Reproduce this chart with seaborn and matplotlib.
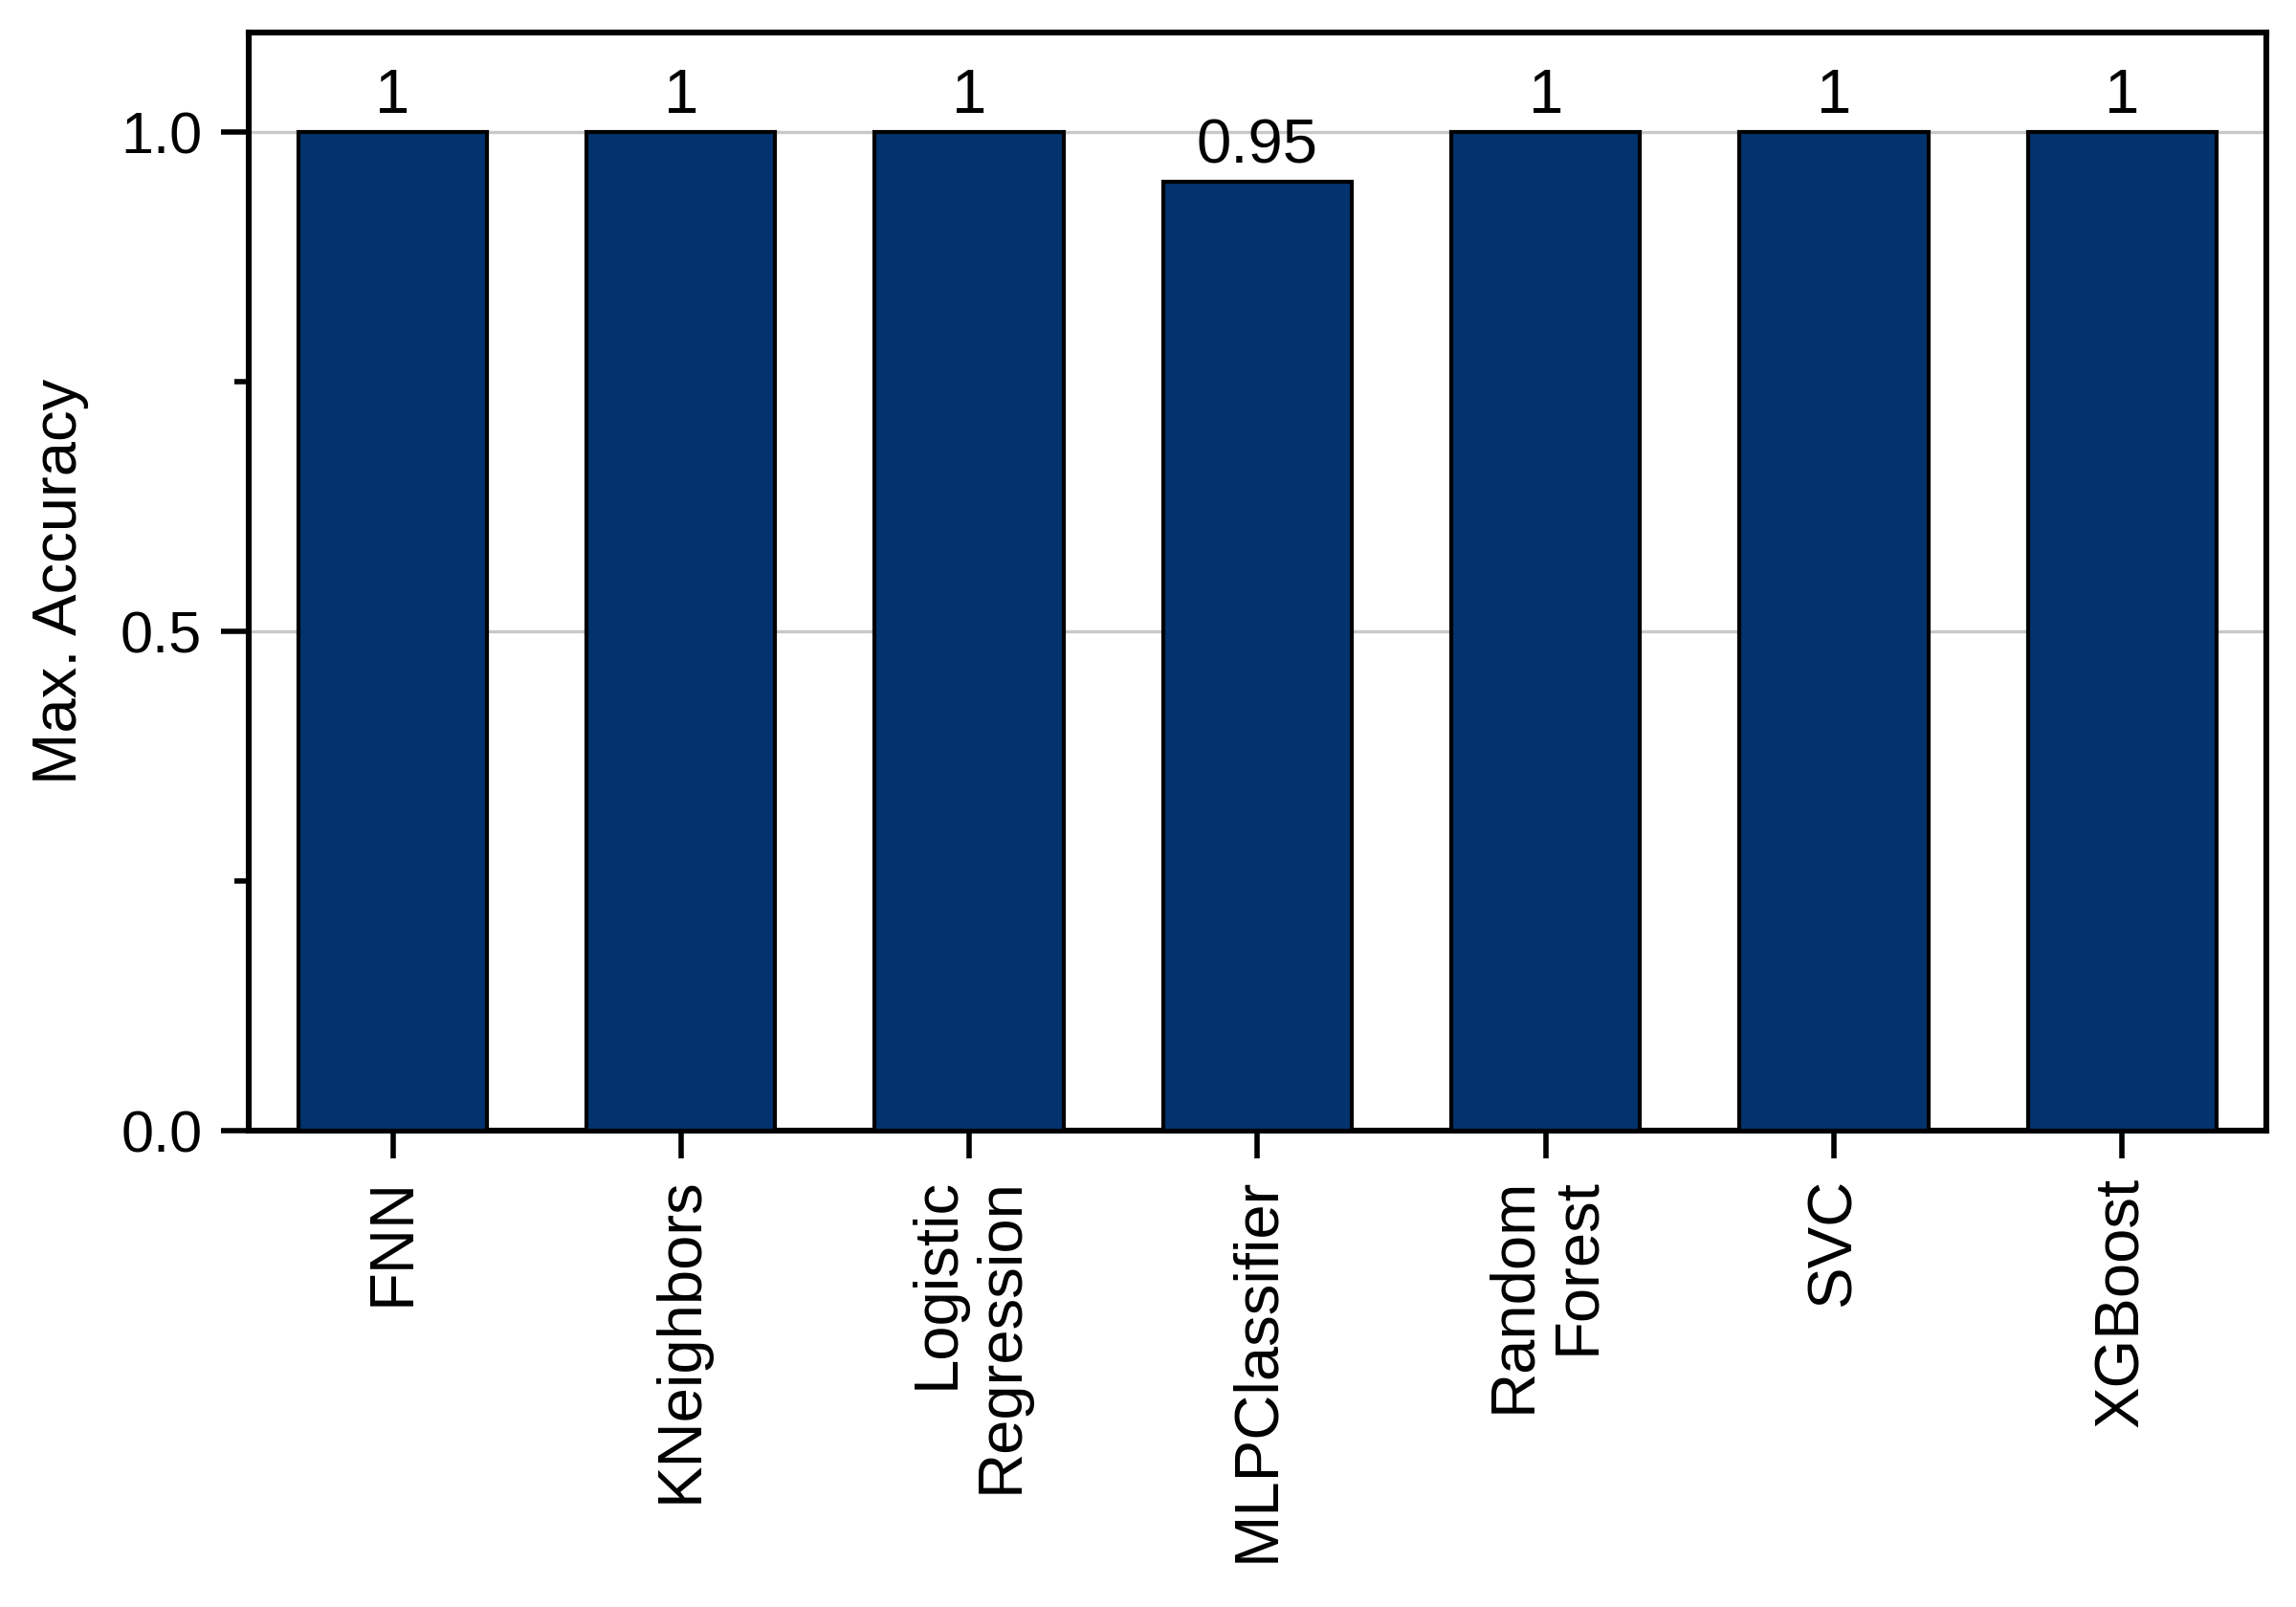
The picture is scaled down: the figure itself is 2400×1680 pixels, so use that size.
import matplotlib
matplotlib.use("Agg")
import matplotlib.pyplot as plt
import seaborn as sns
import pandas as pd
from matplotlib.ticker import FixedLocator

categories = ["FNN", "KNeighbors", "Logistic\nRegression", "MLPClassifier",
              "Random\nForest", "SVC", "XGBoost"]
values = [1, 1, 1, 0.95, 1, 1, 1]
value_labels = ["1", "1", "1", "0.95", "1", "1", "1"]
y_major = [0.0, 0.5, 1.0]
y_major_labels = ["0.0", "0.5", "1.0"]
y_minor = [0.25, 0.75]
y_title = "Max. Accuracy"

sns.set_style("white")
plt.rcParams['font.family'] = ['Liberation Sans', 'DejaVu Sans']
plt.rcParams['text.color'] = 'black'
plt.rcParams['axes.labelcolor'] = 'black'
plt.rcParams['xtick.color'] = 'black'
plt.rcParams['ytick.color'] = 'black'

df = pd.DataFrame({"model": categories, "acc": values})

fig = plt.figure(figsize=(12, 8.4), dpi=200)
ax = fig.add_axes([0.1083, 0.2964, 0.8787, 0.6834])

sns.barplot(data=df, x="model", y="acc", color="#02336f", saturation=1,
            edgecolor="black", linewidth=1.5, width=0.655, ax=ax, zorder=3)

ax.bar_label(ax.containers[0], labels=value_labels, padding=2.5, fontsize=23.5,
             color="black", zorder=4)

ax.set_xlim(-0.5, len(categories) - 0.5)
ax.set_ylim(0, 1.1)
ax.set_yticks(y_major)
ax.set_yticklabels(y_major_labels)
ax.yaxis.set_minor_locator(FixedLocator(y_minor))
ax.yaxis.grid(True, which="major", color="#c8c8c8", linewidth=1.2, zorder=0)
ax.set_axisbelow(True)

ax.set_xlabel("")
ax.set_ylabel(y_title, fontsize=23.5, labelpad=12)

ax.tick_params(axis="y", which="major", direction="out", length=10.5, width=2,
               labelsize=22, left=True, pad=7)
ax.tick_params(axis="y", which="minor", direction="out", length=5.5, width=2, left=True)
ax.tick_params(axis="x", which="major", direction="out", length=10.5, width=2,
               labelsize=23.5, bottom=True, pad=7)
plt.setp(ax.get_xticklabels(), rotation=90, ha="center", va="top",
         multialignment="right", linespacing=1.15)

for s in ax.spines.values():
    s.set_visible(True)
    s.set_color("black")
    s.set_linewidth(2.2)

fig.savefig("out.png", dpi=200, facecolor="white")
